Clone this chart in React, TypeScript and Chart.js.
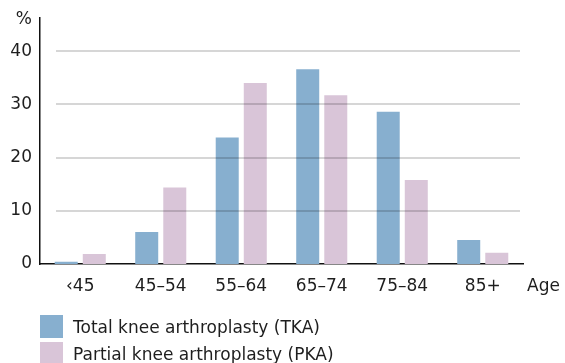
import React, { useEffect, useRef } from "react";
import { Chart, registerables } from "chart.js";

Chart.register(...registerables);

const categories = ["‹45", "45–54", "55–64", "65–74", "75–84", "85+"];
const tkaValues = [0.4, 6.0, 23.8, 36.6, 28.6, 4.5];
const pkaValues = [1.9, 14.4, 34.0, 31.7, 15.8, 2.1];
const yTicks = [0, 10, 20, 30, 40];
const seriesLabels = ["Total knee arthroplasty (TKA)", "Partial knee arthroplasty (PKA)"];
const seriesColors = ["#87AFCF", "#D9C5D8"];

const FONT = "'DejaVu Sans', sans-serif";
const FS = 17;
const TEXT = "#1e1e1e";

export default function App() {
  const ref = useRef<HTMLCanvasElement | null>(null);

  useEffect(() => {
    document.body.style.margin = "0";
    const canvas = ref.current;
    if (!canvas) return;

    const extras = {
      id: "extras",
      afterDatasetsDraw(chart: any) {
        const ctx = chart.ctx;
        const y = chart.scales.y;
        const area = chart.chartArea;
        ctx.save();
        ctx.strokeStyle = "rgba(0,0,0,0.16)";
        ctx.lineWidth = 2;
        yTicks.forEach((t) => {
          if (t === 0) return;
          const py = Math.round(y.getPixelForValue(t));
          ctx.beginPath();
          ctx.moveTo(area.left + 16, py);
          ctx.lineTo(area.right - 3, py);
          ctx.stroke();
        });
        ctx.restore();
      },
      afterDraw(chart: any) {
        const ctx = chart.ctx;
        const area = chart.chartArea;
        ctx.save();
        ctx.fillStyle = TEXT;
        ctx.font = `${FS}px ${FONT}`;
        ctx.textBaseline = "middle";
        ctx.textAlign = "right";
        ctx.fillText("%", 32, 20);
        ctx.textAlign = "left";
        ctx.fillText("Age", area.right + 4, 287);
        ctx.restore();
      },
    };

    const chart = new Chart(canvas, {
      type: "bar",
      data: {
        labels: categories,
        datasets: [
          {
            label: seriesLabels[0],
            data: tkaValues,
            backgroundColor: seriesColors[0],
            borderWidth: 0,
            categoryPercentage: 0.697,
            barPercentage: 0.82,
          },
          {
            label: seriesLabels[1],
            data: pkaValues,
            backgroundColor: seriesColors[1],
            borderWidth: 0,
            categoryPercentage: 0.697,
            barPercentage: 0.82,
          },
        ],
      },
      options: {
        animation: false,
        responsive: false,
        maintainAspectRatio: false,
        layout: { padding: { top: 17, right: 42, left: 0, bottom: 0 } },
        plugins: {
          legend: { display: false },
          tooltip: { enabled: false },
        },
        scales: {
          x: {
            grid: { display: false, drawTicks: false },
            border: { display: true, color: "#111", width: 1.5 },
            ticks: {
              color: TEXT,
              font: { family: FONT, size: FS },
              padding: 12,
              maxRotation: 0,
              autoSkip: false,
            },
            afterFit(scale: any) {
              scale.height = 99;
            },
          },
          y: {
            min: 0,
            max: 46.2,
            grid: { display: false, drawTicks: false },
            border: { display: true, color: "#111", width: 1.5 },
            ticks: {
              stepSize: 10,
              includeBounds: false,
              color: TEXT,
              font: { family: FONT, size: FS },
              padding: 8,
            },
            afterFit(scale: any) {
              scale.width = 40;
            },
          },
        },
      },
      plugins: [extras],
    });

    return () => chart.destroy();
  }, []);

  return (
    <div style={{ position: "relative", width: 565, height: 363, overflow: "hidden", fontFamily: FONT }}>
      <canvas ref={ref} width={565} height={363} style={{ position: "absolute", left: 0, top: 0, width: 565, height: 363 }} />
      <div style={{ position: "absolute", left: 40, top: 315 }}>
        {seriesLabels.map((l, i) => (
          <div key={l} style={{ display: "flex", alignItems: "center", height: 23, marginBottom: 4 }}>
            <span style={{ display: "inline-block", width: 23, height: 23, background: seriesColors[i] }} />
            <span style={{ marginLeft: 10, fontSize: FS, color: TEXT, whiteSpace: "nowrap" }}>{l}</span>
          </div>
        ))}
      </div>
    </div>
  );
}
